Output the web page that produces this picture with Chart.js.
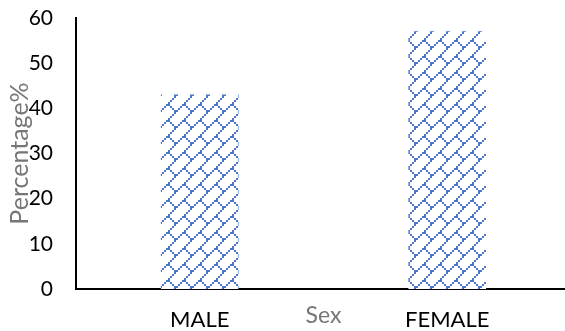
<!DOCTYPE html>
<html>
<head>
<meta charset="utf-8">
<script src="https://cdn.jsdelivr.net/npm/chart.js@4.4.1/dist/chart.umd.min.js"></script>
<style>
  html, body { margin: 0; padding: 0; background: #fff; overflow: hidden; }
  canvas { display: block; }
</style>
</head>
<body>
<canvas id="chart" width="571" height="331"></canvas>
<script>
// Share of respondents by sex
const categories = ['MALE', 'FEMALE'];
const percentages = [43, 57];
const yTicks = [0, 10, 20, 30, 40, 50, 60];
const xTitle = 'Sex';
const yTitle = 'Percentage%';

const FONT = 'Lato, "Liberation Sans", sans-serif';
const TITLE_GREY = '#767676';
const BAR_BLUE = '#4a78c6';

// Diagonal-brick hatch: 8x8 bitmap drawn at 2px per bit
function brickPattern(ctx) {
  const rows = [0x01, 0x02, 0x04, 0x08, 0x18, 0x24, 0x42, 0x81];
  const s = 2;
  const tile = document.createElement('canvas');
  tile.width = 8 * s;
  tile.height = 8 * s;
  const t = tile.getContext('2d');
  t.fillStyle = '#ffffff';
  t.fillRect(0, 0, tile.width, tile.height);
  t.fillStyle = BAR_BLUE;
  rows.forEach((bits, r) => {
    for (let c = 0; c < 8; c++) {
      if (bits & (0x80 >> c)) t.fillRect(c * s, r * s, s, s);
    }
  });
  return ctx.createPattern(tile, 'repeat');
}

// Axis titles drawn inside the layout, overlapping the tick column
const axisTitles = {
  id: 'axisTitles',
  afterDraw(chart) {
    const { ctx, chartArea } = chart;
    ctx.save();
    ctx.fillStyle = TITLE_GREY;
    ctx.textAlign = 'center';
    ctx.textBaseline = 'middle';
    ctx.font = '23px ' + FONT;
    ctx.fillText(xTitle, (chartArea.left + chartArea.right) / 2, 316);
    ctx.translate(20, (chartArea.top + chartArea.bottom) / 2);
    ctx.rotate(-Math.PI / 2);
    ctx.font = '25px ' + FONT;
    ctx.fillText(yTitle, 0, 0);
    ctx.restore();
  }
};

const canvas = document.getElementById('chart');
const ctx = canvas.getContext('2d');

new Chart(ctx, {
  type: 'bar',
  data: {
    labels: categories,
    datasets: [{
      data: percentages,
      backgroundColor: brickPattern(ctx),
      borderWidth: 0,
      barThickness: 77
    }]
  },
  options: {
    responsive: false,
    animation: false,
    devicePixelRatio: 1,
    layout: { padding: { top: 18, right: 0, bottom: 0, left: 0 } },
    plugins: {
      legend: { display: false },
      tooltip: { enabled: false }
    },
    scales: {
      x: {
        grid: { display: false },
        border: { display: true, color: '#000', width: 2 },
        ticks: {
          color: '#000',
          font: { family: FONT, size: 22 },
          padding: 10,
          maxRotation: 0
        },
        afterFit(scale) {
          scale.height = 42;
          scale.paddingLeft = 0;
          scale.paddingRight = 0;
        }
      },
      y: {
        min: 0,
        max: 60,
        afterBuildTicks(scale) { scale.ticks = yTicks.map(v => ({ value: v })); },
        grid: { display: false, drawTicks: false },
        border: { display: true, color: '#000', width: 2 },
        ticks: {
          color: '#000',
          font: { family: FONT, size: 21 },
          padding: 23
        },
        afterFit(scale) {
          scale.width = 76;
          scale.paddingTop = 0;
          scale.paddingBottom = 0;
        }
      }
    }
  },
  plugins: [axisTitles]
});
</script>
</body>
</html>
